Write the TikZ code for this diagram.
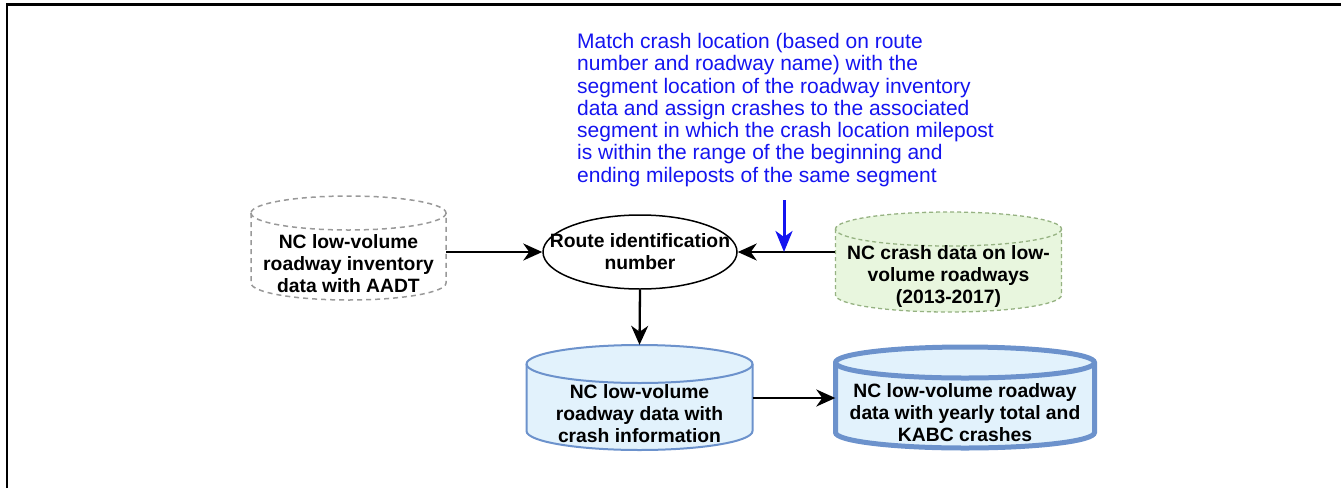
\documentclass[tikz,border=0pt]{standalone}
\usepackage{fontspec}
\setmainfont{Liberation Sans}
\usetikzlibrary{arrows.meta,calc,shapes.geometric}
\definecolor{cylblue}{RGB}{108,146,204}
\definecolor{cylfill}{RGB}{226,242,252}
\definecolor{crashfill}{RGB}{232,246,222}
\definecolor{crashline}{RGB}{150,178,130}
\definecolor{notecol}{RGB}{20,20,240}
\tikzset{
  dbtext/.style={font=\bfseries\fontsize{19.3}{22}\selectfont, align=center, inner sep=0pt},
  flow/.style={line width=2.3pt, -{Stealth[length=19pt,width=17pt,inset=6pt]}},
}

\begin{document}
\begin{tikzpicture}[x=1pt,y=1pt]
        \useasboundingbox (0,0) rectangle (1341,-488);
        \draw[line width=2.5pt] (7,-488) -- (7,-4.5) -- (1341,-4.5);

        % cylinders
        \draw[gray!80, line width=1.5pt, dash pattern=on 5pt off 4pt, fill=white] (251,-213) -- (251,-283) arc[start angle=180, end angle=360, x radius=97.5, y radius=17] -- (446,-213) arc[start angle=0, end angle=180, x radius=97.5, y radius=17] -- cycle;
        \draw[gray!80, line width=1.5pt, dash pattern=on 5pt off 4pt] (446,-213) arc[start angle=0, end angle=-180, x radius=97.5, y radius=17];

        \draw[crashline, line width=1.3pt, dash pattern=on 4pt off 3pt, fill=crashfill] (835.5,-229) -- (835.5,-295) arc[start angle=180, end angle=360, x radius=113, y radius=17] -- (1061.5,-229) arc[start angle=0, end angle=180, x radius=113, y radius=17] -- cycle;
        \draw[crashline, line width=1.3pt, dash pattern=on 4pt off 3pt] (1061.5,-229) arc[start angle=0, end angle=-180, x radius=113, y radius=17];

        \draw[cylblue, line width=2pt, fill=cylfill] (526.5,-364) -- (526.5,-431) arc[start angle=180, end angle=360, x radius=113, y radius=19] -- (752.5,-364) arc[start angle=0, end angle=180, x radius=113, y radius=19] -- cycle;
        \draw[cylblue, line width=2pt] (752.5,-364) arc[start angle=0, end angle=-180, x radius=113, y radius=19];

        \draw[cylblue, line width=5pt, fill=cylfill] (835.5,-362.5) -- (835.5,-432.5) arc[start angle=180, end angle=360, x radius=129.5, y radius=15.5] -- (1094.5,-362.5) arc[start angle=0, end angle=180, x radius=129.5, y radius=15.5] -- cycle;
        \draw[cylblue, line width=5pt] (1094.5,-362.5) arc[start angle=0, end angle=-180, x radius=129.5, y radius=15.5];

        % nodes
        \node[dbtext, minimum width=195pt, minimum height=60pt] (inv) at (348.5,-264) {NC low-volume\\roadway inventory\\data with AADT};
        \node[dbtext, minimum width=226pt, minimum height=60pt] (crash) at (948.5,-277) {NC crash data on low-\\volume roadways\\(2013-2017)};
        \node[dbtext, minimum width=226pt, minimum height=62pt] (merged) at (639.5,-414) {NC low-volume\\roadway data with\\crash information};
        \node[dbtext, minimum width=259pt, minimum height=62pt] (final) at (965,-413) {NC low-volume roadway\\data with yearly total and\\KABC crashes};
        \node[dbtext, ellipse, draw, line width=1.5pt, inner xsep=-30pt, minimum width=194pt, minimum height=74pt] (route) at (640,-252) {Route identification\\number};

        \node[notecol, font=\fontsize{21}{22.3}\selectfont, align=left, inner sep=0pt, anchor=north west] (note) at (577,-33) {Match crash location (based on route\\number and roadway name) with the\\segment location of the roadway inventory\\data and assign crashes to the associated\\segment in which the crash location milepost\\is within the range of the beginning and\\ending mileposts of the same segment};
        \coordinate (bluetop) at (784,-200);

        % connectors
        \draw[flow] (inv.east |- route.west) -- (route.west);
        \draw[flow] (crash.west |- route.east) -- (route.east);
        \draw[notecol, line width=3pt, -{Stealth[length=21pt,width=17pt,inset=6pt]}] (bluetop) -- (bluetop |- route.east);
        \draw[flow] (route.south) -- ($(merged.north)+(0,38)$);
        \draw[flow] ([yshift=16pt]merged.east) -- ([yshift=16pt]merged.east -| final.west);
\end{tikzpicture}
\end{document}
